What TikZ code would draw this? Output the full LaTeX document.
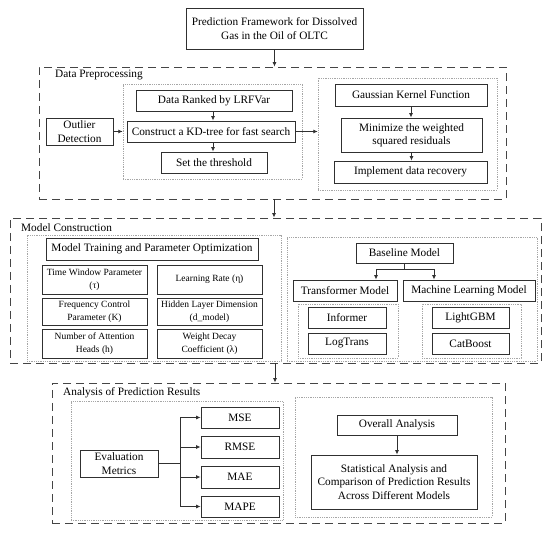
\documentclass[tikz,border=0pt]{standalone}
\usepackage{fontspec}
\setmainfont{Liberation Serif}
\usetikzlibrary{arrows.meta,calc}
\definecolor{ln}{HTML}{303030}
\tikzset{
  box/.style={draw=ln, line width=0.9pt, inner sep=0pt, align=center, fill=white},
  small/.style={font=\fontsize{9.5}{12.7}\selectfont},
  dashbox/.style={draw=ln!90, line width=0.9pt, dash pattern=on 8pt off 5pt, inner sep=0pt},
  dotbox/.style={draw=gray!70, line width=0.5pt, dash pattern=on 0.8pt off 1pt, inner sep=0pt},
  lbl/.style={anchor=west, inner sep=0pt},
  arr/.style={draw=ln, line width=0.8pt, -{Latex[length=4.5pt,width=4pt]}},
  ln0/.style={draw=ln, line width=0.8pt},
}
\newcommand{\bx}[6][]{\node[box,#1,minimum width=#4pt,minimum height=#5pt] (#2) at (#3) {#6};}
\begin{document}
\begin{tikzpicture}[x=1pt,y=-1pt,font=\fontsize{11.3}{13.3}\selectfont]
\useasboundingbox (0,0) rectangle (550,535);
\coordinate (xa) at (213,0);
\coordinate (xb) at (376,0);
\coordinate (xc) at (434,0);
\coordinate (xd) at (274,0);
\coordinate (xe) at (275,0);
\coordinate (xf) at (180,0);
% top
\bx{top}{274.5,28.5}{177}{41}{Prediction Framework for Dissolved\\Gas in the Oil of OLTC}
% Data preprocessing
\node[dashbox,minimum width=467pt,minimum height=132pt] (dp) at (272.5,133) {};
\node[lbl] (dplbl) at (55,75) {Data Preprocessing};
\node[dotbox,minimum width=179pt,minimum height=95pt] (d1) at (212.5,131.5) {};
\node[dotbox,minimum width=179pt,minimum height=112pt] (d2) at (407.5,134) {};
\bx{outl}{79.5,131.5}{67}{27}{Outlier\\Detection}
\bx{rank}{214,100.5}{156}{21}{Data Ranked by LRFVar}
\bx{kd}{211,131.5}{168}{21}{Construct a KD-tree for fast search}
\bx{thr}{214,162.5}{106}{21}{Set the threshold}
\bx{gauss}{411,95}{152}{22}{Gaussian Kernel Function}
\bx{mini}{411.5,135}{141}{34}{Minimize the weighted\\squared residuals}
\bx{impl}{410.5,172}{153}{22}{Implement data recovery}
\draw[arr] (top.south) -- (top.south |- dp.north);
\draw[arr] (outl.east) -- (outl.east -| d1.west);
\draw[arr] (rank.south -| xa) -- (kd.north -| xa);
\draw[arr] (kd.south -| xa) -- (thr.north -| xa);
\draw[arr] (kd.east) -- (kd.east -| d2.west);
\draw[arr] (gauss.south) -- (gauss.south |- mini.north);
\draw[arr] (mini.south) -- (mini.south |- impl.north);
% Model construction
\node[dashbox,minimum width=531pt,minimum height=145pt] (mc) at (275.5,290.5) {};
\node[lbl] (mclbl) at (21,228) {Model Construction};
\node[dotbox,minimum width=254pt,minimum height=126pt] (d3) at (154,298) {};
\node[dotbox,minimum width=250pt,minimum height=124pt] (d4) at (412,299) {};
\bx{train}{152,249}{212}{22}{Model Training and Parameter Optimization}
\bx[small]{p1}{94.5,279.5}{105}{29}{Time Window Parameter\\(τ)}
\bx[small]{p2}{209.5,279.5}{105}{29}{Learning Rate (η)}
\bx[small]{p3}{94.5,311.5}{105}{27}{Frequency Control\\Parameter (K)}
\bx[small]{p4}{209.5,311.5}{105}{27}{Hidden Layer Dimension\\(d\_model)}
\bx[small]{p5}{94.5,343.5}{105}{29}{Number of Attention\\Heads (h)}
\bx[small]{p6}{209.5,343.5}{105}{29}{Weight Decay\\Coefficient (λ)}
\bx{base}{404.5,253}{97}{20}{Baseline Model}
\bx{trans}{345,290.5}{104}{21}{Transformer Model}
\bx{ml}{469,290.5}{132}{21}{Machine Learning Model}
\node[dotbox,minimum width=100pt,minimum height=54pt] (d5) at (348,331) {};
\node[dotbox,minimum width=99pt,minimum height=54pt] (d6) at (471.5,331) {};
\bx{inf}{347,317.5}{78}{21}{Informer}
\bx{logt}{347,343.5}{78}{21}{LogTrans}
\bx{lgb}{470.5,317.5}{77}{21}{LightGBM}
\bx{cat}{470.5,343.5}{77}{21}{CatBoost}
\coordinate (br) at (404,269);
\draw[ln0] (base.south -| br) -- (br);
\draw[ln0] (br -| xb) -- (br -| xc);
\draw[arr] (br -| xb) -- (trans.north -| xb);
\draw[arr] (br -| xc) -- (ml.north -| xc);
\draw[arr] (dp.south -| xd) -- (mc.north -| xd);
% Analysis
\node[dashbox,minimum width=453pt,minimum height=140pt] (an) at (278.5,453) {};
\node[lbl] (anlbl) at (63,393) {Analysis of Prediction Results};
\node[dotbox,minimum width=212pt,minimum height=119pt] (d7) at (177,460.5) {};
\node[dotbox,minimum width=197pt,minimum height=120pt] (d8) at (393.5,457) {};
\bx{eval}{119,463.5}{78}{27}{Evaluation\\Metrics}
\bx{mse}{240,417.5}{78}{21}{MSE}
\bx{rmse}{240,447}{78}{22}{RMSE}
\bx{mae}{240,477}{78}{22}{MAE}
\bx{mape}{240,506.5}{78}{21}{MAPE}
\draw[ln0] (eval.east) -- (eval.east -| xf);
\draw[ln0] (mse.west -| xf) -- (mape.west -| xf);
\foreach \m in {mse,rmse,mae,mape} \draw[arr] (\m.west -| xf) -- (\m.west);
\bx{over}{397,425}{120}{20}{Overall Analysis}
\bx{stat}{394,482}{166}{54}{Statistical Analysis and\\Comparison of Prediction Results\\Across Different Models}
\draw[arr] (over.south) -- (over.south |- stat.north);
\draw[arr] (mc.south -| xe) -- (an.north -| xe);
\end{tikzpicture}
\end{document}
